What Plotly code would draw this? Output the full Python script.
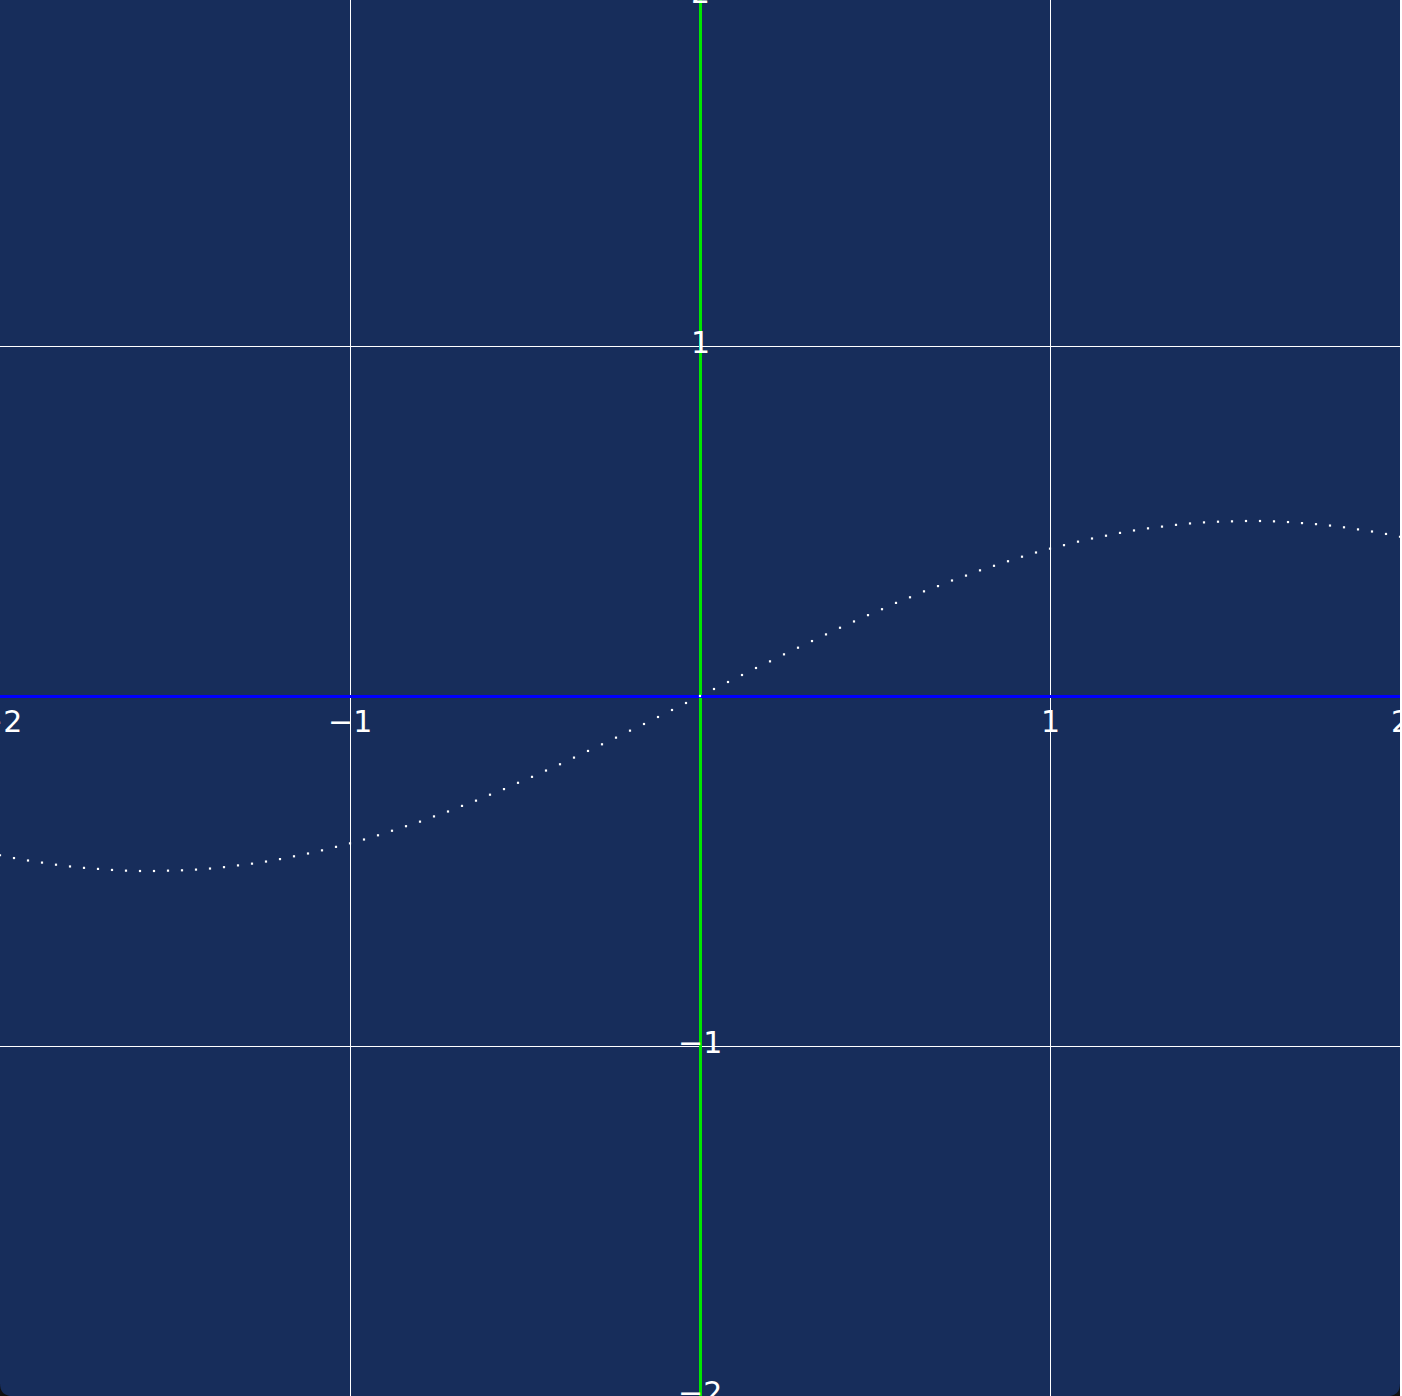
import plotly.graph_objects as go

x_vals = [round(-2 + 0.04 * i, 2) for i in range(101)]
y_pos = [0.0, 0.020, 0.040, 0.060, 0.080, 0.099, 0.119, 0.138, 0.157, 0.176,
         0.195, 0.213, 0.231, 0.248, 0.266, 0.282, 0.299, 0.314, 0.330, 0.344,
         0.359, 0.372, 0.385, 0.398, 0.410, 0.421, 0.431, 0.441, 0.450, 0.458,
         0.466, 0.473, 0.479, 0.484, 0.489, 0.493, 0.496, 0.498, 0.499, 0.500,
         0.500, 0.499, 0.497, 0.494, 0.491, 0.487, 0.482, 0.476, 0.470, 0.463,
         0.455]
y_vals = [-v for v in reversed(y_pos[1:])] + y_pos

tick_vals = [-2, -1, 1, 2]
tick_text = ['\u22122', '\u22121', '1', '2']

BG = '#172d5b'
FONT = dict(family='DejaVu Sans', size=30, color='white')

_AXIS_STYLE = dict(
    range=[-2, 2],
    dtick=1,
    showgrid=True,
    gridcolor='white',
    gridwidth=1,
    zeroline=True,
    zerolinewidth=3,
    showticklabels=False,
    showline=False,
    fixedrange=True,
)

curve = go.Scatter(
    x=x_vals,
    y=y_vals,
    mode='markers',
    marker=dict(symbol='square', size=2.2, color='white', line=dict(width=0)),
    hoverinfo='skip',
    showlegend=False,
)

fig = go.Figure([curve])

labels = []
for v, t in zip(tick_vals, tick_text):
    labels.append(dict(x=v, y=0, xref='x', yref='y', text=t, showarrow=False,
                       xanchor='center', yanchor='top', yshift=-6, font=FONT))
    labels.append(dict(x=0, y=v, xref='x', yref='y', text=t, showarrow=False,
                       xanchor='center', yanchor='middle', yshift=4, font=FONT))

# navy panel with rounded bottom corners
r = 0.009
panel = dict(
    type='path', xref='paper', yref='paper', layer='below',
    path=(f'M 0 1 L 1 1 L 1 {r} Q 1 0 {1 - r} 0 L {r} 0 Q 0 0 0 {r} Z'),
    fillcolor=BG, line=dict(width=0),
)

fig.update_layout(
    width=1400,
    height=1400,
    autosize=False,
    margin=dict(l=0, r=0, t=0, b=0, pad=0),
    paper_bgcolor='#111111',
    plot_bgcolor='rgba(0,0,0,0)',
    xaxis=dict(zerolinecolor='#00e600', **_AXIS_STYLE),
    yaxis=dict(zerolinecolor='#0000ff', **_AXIS_STYLE),
    annotations=labels,
    shapes=[panel],
    showlegend=False,
)

fig.write_html("out.html", config=dict(displayModeBar=False),
               post_script="document.body.style.margin='0';"
                           "document.body.style.marginTop='-4px';")
